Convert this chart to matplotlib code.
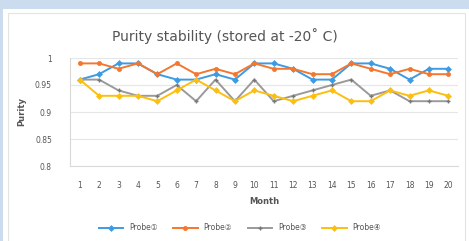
import matplotlib
matplotlib.use("Agg")
import matplotlib.pyplot as plt
from matplotlib.patches import Rectangle

months = list(range(1, 21))
probe1 = [0.96, 0.97, 0.99, 0.99, 0.97, 0.96, 0.96, 0.97, 0.96, 0.99,
          0.99, 0.98, 0.96, 0.96, 0.99, 0.99, 0.98, 0.96, 0.98, 0.98]
probe2 = [0.99, 0.99, 0.98, 0.99, 0.97, 0.99, 0.97, 0.98, 0.97, 0.99,
          0.98, 0.98, 0.97, 0.97, 0.99, 0.98, 0.97, 0.98, 0.97, 0.97]
probe3 = [0.96, 0.96, 0.94, 0.93, 0.93, 0.95, 0.92, 0.96, 0.92, 0.96,
          0.92, 0.93, 0.94, 0.95, 0.96, 0.93, 0.94, 0.92, 0.92, 0.92]
probe4 = [0.96, 0.93, 0.93, 0.93, 0.92, 0.94, 0.96, 0.94, 0.92, 0.94,
          0.93, 0.92, 0.93, 0.94, 0.92, 0.92, 0.94, 0.93, 0.94, 0.93]
labels = ["Probe①", "Probe②", "Probe③", "Probe④"]
yticks = [0.8, 0.85, 0.9, 0.95, 1.0]
ytick_labels = ["0.8", "0.85", "0.9", "0.95", "1"]

colors = ["#3d9be3", "#f4772f", "#9a9a9a", "#fdbf0f"]
markers = ["D", "o", "+", "D"]

W, H = 469, 241
fig = plt.figure(figsize=(W / 100, H / 100), dpi=100)
fig.patch.set_facecolor("#cadcee")
# white chart area
fig.add_artist(Rectangle((3 / W, 0), (W - 3) / W, (H - 9) / H,
                         transform=fig.transFigure, facecolor="white",
                         edgecolor="none", zorder=0))
fig.add_artist(Rectangle((8 / W, -0.02), (W - 12) / W, (H - 13) / H + 0.02,
                         transform=fig.transFigure, facecolor="white",
                         edgecolor="#e3e3e3", lw=0.8, zorder=0))

ax = fig.add_axes([70 / W, 1 - 166 / H, (458 - 70) / W, (166 - 58) / H])
ax.set_facecolor("white")
for vals, c, m, lab in zip([probe1, probe2, probe3, probe4], colors, markers, labels):
    ms = 3.5 if m == "+" else 3
    ax.plot(months, vals, color=c, lw=1.4, marker=m, markersize=ms,
            markeredgewidth=1.0 if m == "+" else 0.5, label=lab,
            markeredgecolor="#777777" if m == "+" else c)

ax.set_xlim(0.5, 20.5)
ax.set_ylim(0.8, 1.0)
ax.set_xticks(months)
ax.set_xticklabels([str(m) for m in months], fontsize=5.5, color="#555555")
ax.set_yticks(yticks)
ax.set_yticklabels(ytick_labels, fontsize=5.5, color="#555555")
ax.tick_params(axis="x", length=0, pad=11)
ax.tick_params(axis="y", length=0, pad=13)
ax.grid(axis="y", color="#e6e6e6", lw=0.8)
ax.set_axisbelow(True)
for s in ["top", "right"]:
    ax.spines[s].set_visible(False)
ax.spines["left"].set_color("#d9d9d9")
ax.spines["bottom"].set_color("#d9d9d9")

ax.set_xlabel("Month", fontsize=6, fontweight="bold", color="#555555", labelpad=5)
ax.set_ylabel("Purity", fontsize=6, fontweight="bold", color="#555555", labelpad=6)
fig.text(225 / W, 1 - 36 / H, "Purity stability (stored at -20\u02da C)",
         fontsize=10, color="#555555", ha="center", va="center")

handles, labs = ax.get_legend_handles_labels()
leg = fig.legend(handles, labs, loc="center", ncol=4, fontsize=5.5, frameon=False,
                 handlelength=3.2, columnspacing=2.0, labelcolor="#555555")
leg.set_bbox_to_anchor((240 / W, 1 - 228 / H), transform=fig.transFigure)

fig.savefig("out.png", dpi=100, facecolor=fig.get_facecolor())
